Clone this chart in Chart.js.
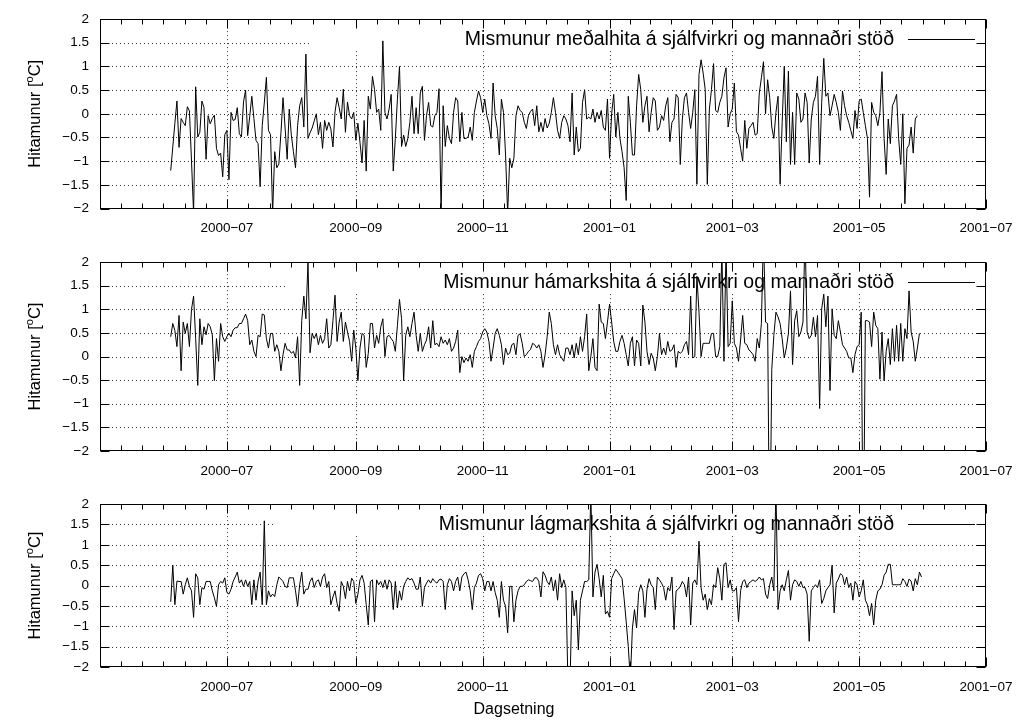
<!DOCTYPE html>
<html lang="is">
<head>
<meta charset="UTF-8">
<title>Mismunur sjálfvirkrar og mannaðrar stöðvar</title>
<script src="https://cdn.jsdelivr.net/npm/chart.js@4"></script>
<style>
  body {
    margin: 0;
    background: #fff;
  }
  .wrap {
    position: relative;
    width: 1028px;
    height: 727px;
  }
  .wrap canvas {
    position: absolute;
    left: 0;
  }
</style>
</head>
<body>

<div class="wrap">
  <canvas id="c1" width="1028" height="243" style="top:0"></canvas>
  <canvas id="c2" width="1028" height="242" style="top:243px"></canvas>
  <canvas id="c3" width="1028" height="242" style="top:485px"></canvas>
</div>

<script>
  // fyrsta mæling, síðan einn dagur á hvert gildi
  const fyrstiDagur = '2000-06-04';

  const medalhiti = [
    -1.2, -0.7, -0.2, 0.27, -0.71, -0.1, -0.18, -0.25, 0.15, 0.06,
    -1.0, -2.1, 0.57, -0.49, -0.39, 0.27, 0.13, -0.96, -0.04, -0.21,
    -0.1, -0.03, -0.73, -0.88, -0.83, -1.33, -0.44, -0.35, -1.39, 0.03,
    -0.14, -0.12, 0.13, -0.42, -0.49, 0.25, 0.5, -0.46, -0.05, 0.37,
    -0.1, -0.56, -0.63, -1.54, -0.25, 0.23, 0.77, -0.35, -0.44, -2.1,
    -0.8, -1.14, -1.06, -0.4, 0.34, -0.3, -0.96, 0.1, -0.45, -0.8,
    -1.14, -0.25, 0.17, 0.34, -0.28, 1.26, -0.52, -0.4, -0.3, -0.15,
    0, -0.44, -0.18, -0.73, -0.14, -0.35, -0.18, -0.32, -0.7, 0.04,
    0.34, 0.13, -0.11, 0.52, -0.39, 0.25, -0.04, -0.11, 0.03, -0.56,
    -0.2, -0.6, -1.04, -0.14, -1.21, 0.37, 0.10, 0.79, 0.51, 0.03,
    0.10, -0.35, 1.54, 0.03, -0.11, 0.10, 0.41, -1.21, -0.52, 0.31,
    1.0, -0.69, -0.45, -0.69, -0.52, -0.18, 0.37, -0.42, 0.13, -0.42,
    0.44, 0.58, -0.56, -0.04, 0.24, -0.25, -0.28, -0.04, 0.03, 0.53,
    -2.1, 0.17, -0.69, -0.25, -0.52, -0.63, 0.03, 0.34, 0.27, -0.59,
    0.03, -0.52, -0.52, -0.49, -0.28, -0.56, 0.03, 0.27, 0.48, 0.34,
    0.03, 0.31, -0.04, -0.21, -0.52, 0.65, -0.04, -0.31, -0.87, 0.31,
    0.03, -0.87, -2.1, -0.94, -1.14, -0.94, -0.04, 0.17, 0.07, 0.03,
    -0.18, -0.31, -0.04, 0.05, 0.1, -0.25, 0.17, -0.38, -0.18, -0.38, -0.1,
    -0.3, -0.2, 0.03, 0.34, 0.03, -0.35, -0.52, -0.18, -0.04, -0.11,
    -0.25, -0.59, 0.44, -0.87, -0.28, -0.8, -0.73, 0.24, 0.51, -0.11,
    -0.07, -0.11, 0.1, -0.18, 0.03, -0.11, 0.07, -0.28, -0.35, 0.31,
    -0.94, 0.0, 0.41, -0.49, 0.03, -0.52, -0.8, -1.14, -1.83, 0.37,
    -0.18, -0.87, -0.87, 0.17, 0.83, 0.51, -0.18, 0.17, 0.37, -0.38,
    0.03, 0.34, 0.27, -0.35, -0.28, -0.04, -0.14, 0.17, 0.34, -0.59,
    -0.18, -0.11, 0.41, 0.34, -1.07, -0.11, 0.34, 0.44, 0.03, -0.31,
    0.03, 0.51, -1.49, 0.83, 1.14, 0.86, 0.51, -1.49, 0.1, 0.51,
    1.06, 0.07, 0.03, 0.24, 0.37, 0.76, 0.97, -0.28, 0.0, 0.1,
    0.65, -0.38, -0.45, -0.73, -1.0, -0.14, -0.73, -0.31, -0.25, -0.18, -0.45,
    -0.42, 0.44, 0.76, 1.1, 0.0, 0.72, 0.34, -0.28, -0.52, 0.03,
    0.37, -1.49, -0.18, 1.0, -0.59, 0.90, -1.07, 0.03, -1.07, 0.44,
    0.31, -0.18, -0.11, 0.44, 0.24, -1.04, -0.11, 0.24, 0.37, 0.79,
    -1.07, 0.24, 1.17, 0.37, 0.44, -0.04, 0.17, 0.41, 0.24, 0.03,
    -0.35, 0.48, 0.17, -0.04, -0.18, -0.35, -0.52, 0.07, -0.31, 0.27,
    0.31, 0.03, -0.25, -0.52, -1.76, 0.24, 0.03, -0.04, -0.25, 0.03,
    0.89, -0.52, -1.28, -0.11, -0.63, 0.17, 0.27, 0.41, -0.52, -1.07,
    0.0, -1.9, -0.73, -0.66, -0.28, -0.83, -0.11, -0.04
  ];

  const hamarkshiti = [
    0.42, 0.70, 0.55, 0.21, 0.87, -0.30, 0.73, 0.49, 0.70, 0.21,
    1.0, 1.28, 0.38, -0.61, 0.80, 0.25, 0.63, 0.46, 0.70, 0.63,
    0.46, -0.51, 0.38, -0.10, 0.70, 0.42, 0.32, 0.42, 0.49, 0.42,
    0.56, 0.61, 0.61, 0.70, 0.70, 0.80, 0.90, 0.76, 0.25, 0.35,
    0.11, 0.0, 0.45, 0.42, 0.90, 0.88, 0.38, 0.18, 0.49, 0.49,
    0.11, 0.25, 0.11, -0.30, 0.04, 0.28, 0.14, 0.14, 0.07, 0.11,
    -0.03, 0.42, -0.61, 0.76, 1.28, 0.80, 2.0, 0.08, 0.49, 0.38,
    0.49, 0.25, 0.45, 0.28, 0.38, 0.80, 0.18, 0.25, 0.76, 1.3,
    0.32, 0.73, 0.94, 0.32, 0.73, 0.52, 0.32, -0.10, 0.56, 0.18,
    -0.51, 0.18, 0.49, 0.45, -0.23, 0.07, 0.70, 0.70, 0.18, 0.45,
    0.28, 0.63, 0.80, 0.0, 0.42, 0.45, 0.38, 0.32, 0.11, 0.66,
    1.21, 0.80, -0.51, 0.45, 0.63, 0.42, 0.70, 0.94, 0.45, 0.11,
    0.49, 0.11, 0.25, 0.35, 0.63, 0.18, 0.76, 0.25, 0.28, 0.21,
    0.42, 0.28, 0.35, 0.25, 0.38, 0.11, 0.18, 0.32, 0.56, -0.34,
    0.0, -0.13, -0.03, -0.10, 0.04, -0.23, 0.11, 0.21, 0.32, 0.38,
    0.52, 0.59, 0.52, 0.32, -0.10, 0.18, 0.49, 0.59, 0.45, 0.25,
    -0.17, 0.18, 0.04, 0.07, 0.25, 0.28, 0.04, 0.45, 0.48, 0.28,
    0.0, 0.04, 0.11, 0.15, 0.28, 0.25, 0.18, 0.25, 0.11, -0.23, 0.04,
    0.42, 0.94, 0.70, 0.25, 0.04, 0.25, 0.04, -0.03, -0.10, 0.18,
    0.18, 0.04, 0.25, -0.03, 0.28, 0.04, 0.42, 0.11, 0.42, 0.90,
    -0.30, 0.0, 0.38, -0.23, -0.30, 1.11, 0.73, 0.70, 0.38, 0.73,
    1.11, 0.73, 0.32, 0.11, 0.11, 0.32, 0.45, 0.28, 0.04, -0.20,
    0.28, 0.42, -0.20, 0.35, 0.28, -0.20, 1.09, 0.73, 0.11, -0.17,
    0.07, -0.03, -0.30, 0.0, 0.49, 0.04, 0.18, 0.04, 0.32, 0.11,
    0.14, 0.25, -0.23, 0.11, 0.07, 0.11, 0.25, 0.32, 0.04, 1.28,
    -0.03, 0.0, 1.70, 0.94, 0.0, 0.28, 0.28, 0.28, 0.28, 0.49,
    0.49, 0.0, 0.0, 0.21, 2.3, -0.10, 2.3, 0.21, 0.28, 1.18,
    0.28, 0.18, -0.1, 0.35, 0.87, 0.28, 0.25, 0.14, 0.10, 0.04, -0.10,
    0.38, 0.18, 0.70, 2.6, 0.73, 0.70, -4.5, -0.27, 0.45, 0.94,
    0.84, 0.70, 0.38, -0.03, 0.18, 0.49, 1.39, -0.17, 0.76, 0.97,
    0.42, 0.52, 0.73, 2.6, 0.52, 0.38, 0.45, 0.83, 0.42, 0.87,
    -1.1, 1.01, 1.32, 0.63, 1.28, -0.72, 1.01, 0.45, 0.38, 0.76,
    0.52, 0.25, 0.18, 0.11, -0.03, -0.03, -0.34, 0.04, 0.21, 0.25,
    0.94, -4.5, 0.76, 0.76, 0.73, 0.21, 0.94, 0.66, 0.59, -0.48,
    0.52, -0.51, 0.11, 0.38, -0.17, 0.59, -0.10, 0.66, -0.10, 0.70,
    -0.10, 0.59, 0.38, 1.39, 0.52, 0.32, -0.10, 0.18, 0.49
  ];

  const lagmarkshiti = [
    -0.40, 0.5, -0.47, 0.11, 0.10, 0.10, -0.21, 0.02, 0.19, -0.02,
    -0.13, -0.78, 0.29, 0.19, -0.47, -0.05, -0.09, 0.10, 0.10, 0.10,
    -0.13, -0.3, -0.51, 0.02, 0.10, 0.06, 0.19, -0.17, -0.21, -0.09,
    0.10, 0.21, 0.33, 0.06, 0.14, -0.02, 0.14, -0.02, 0.10, -0.47,
    0.14, -0.36, 0.10, 0.33, -0.47, 1.59, -0.47, -0.13, -0.28, -0.21,
    -0.27, 0.02, 0.21, 0.16, 0.10, -0.02, -0.05, 0.19, 0.19, 0.19,
    -0.13, -0.51, 0.02, 0.33, -0.21, -0.09, -0.09, 0.10, 0.19, -0.05,
    0.10, 0.14, -0.02, 0.21, 0.29, -0.05, 0.10, -0.47, -0.28, -0.13,
    -0.44, -0.63, 0.10, -0.02, -0.32, 0.10, -0.13, 0.18, 0.10, -0.44,
    -0.21, 0.14, 0.25, 0.06, -0.47, -0.97, 0.10, 0.14, -0.89, 0.14,
    0.02, 0.10, -0.05, 0.14, -0.09, 0.14, 0.06, -0.59, 0.10, -0.55,
    -0.13, -0.36, -0.02, 0.10, 0.19, 0.14, 0.17, 0.06, -0.09, -0.09,
    0.21, -0.51, -0.05, 0.06, 0.14, 0.06, 0.17, 0.10, 0.06, 0.14,
    0.16, 0.10, -0.59, 0.02, 0.17, 0.10, -0.13, 0.10, 0.21, -0.13,
    0.21, 0.29, 0.33, 0.14, -0.13, -0.59, -0.05, 0.06, 0.25, 0.29,
    0.17, -0.13, 0.10, 0.10, -0.13, 0.10, -0.17, -0.36, -0.78, 0.10,
    -0.36, -0.51, -1.16, -0.02, -0.02, -0.89, -0.36, -0.13, -0.02, -0.02,
    0.02, 0.10, 0.14, 0.12, 0.10, 0.19, 0.19, 0.10, -0.28, 0.34, 0.25,
    0.10, 0.02, 0.21, -0.13, 0.14, -0.36, 0.29, -0.05, 0.14, -0.05,
    -2.4, -2.4, -0.13, -0.74, -0.36, -1.58, -0.36, -0.13, 0.10, 0.10,
    0.14, 2.3, -0.28, 0.33, 0.52, 0.17, -0.28, 0.25, -0.70, -0.63,
    -0.78, 0.17, 0.29, 0.40, 0.33, 0.25, 0.17, -0.32, -0.89, -1.5,
    -2.3, -1.04, -0.59, -1.04, -0.17, 0.02, -0.13, -0.78, -0.09, 0.17,
    0.02, -0.05, -0.59, 0.21, 0.14, 0.06, -0.05, -0.36, -0.05, -0.13,
    0.21, -1.08, -0.13, -0.09, -0.02, 0.10, 0.02, -0.28, 0.21, -0.97,
    0.06, 0.14, 0.02, 1.09, -0.05, -0.36, -0.21, -0.59, -0.32, -0.47,
    0.02, -0.05, 0.44, 0.17, -0.36, 0.52, 0.56, -0.05, 0.14, -0.13,
    -0.13, -0.05, -0.89, -0.13, 0.10, 0.14, -0.05, 0.06, 0.10, 0.14, 0.10,
    0.14, 0.21, 0.14, 0.17, -0.21, -0.32, 0.02, 0.21, -0.13, 2.4,
    -0.59, -0.13, 0.02, -0.13, 0.14, 0.37, -0.36, 0.02, 0.14, 0.10,
    -0.02, 0.10, -0.05, -0.05, -0.21, -1.37, -0.13, -0.05, 0.02, -0.05,
    0.14, -0.44, -0.32, -0.13, -0.05, 0.02, 0.5, -0.67, 0.06, 0.16,
    0.29, 0.25, 0.02, 0.21, -0.05, 0.06, -0.36, 0.10, 0.02, -0.28,
    -0.13, 0.14, -0.36, -0.47, -0.74, -0.44, -0.97, -0.36, -0.13, -0.09,
    0.02, 0.25, 0.33, 0.52, 0.52, 0.02, 0.02, 0.02, 0.02, 0.02,
    0.17, 0.10, -0.02, 0.16, 0.11, -0.13, 0.17, 0.02, 0.33, 0.21
  ];

  const heiti = [
    'Mismunur meðalhita á sjálfvirkri og mannaðri stöð',
    'Mismunur hámarkshita á sjálfvirkri og mannaðri stöð',
    'Mismunur lágmarkshita á sjálfvirkri og mannaðri stöð'
  ];

  const xTickDates = ['2000-05-01', '2000-07-01', '2000-09-01', '2000-11-01',
                      '2001-01-01', '2001-03-01', '2001-05-01', '2001-07-01'];
  const xTickLabels = ['', '2000−07', '2000−09', '2000−11',
                       '2001−01', '2001−03', '2001−05', '2001−07'];
  const yTicks = [-2, -1.5, -1, -0.5, 0, 0.5, 1, 1.5, 2];
  const yTickLabels = ['−2', '−1.5', '−1', '−0.5', '0', '0.5', '1', '1.5', '2'];
  const yTitle = ['Hitamunur [', 'o', 'C]'];
  const xTitle = 'Dagsetning';

  // dagar frá 1. maí 2000
  const upphaf = Date.UTC(2000, 4, 1);
  const dagur = s => (Date.parse(s) - upphaf) / 864e5;
  const xTickDays = xTickDates.map(dagur);
  const xMin = xTickDays[0];
  const xMax = xTickDays[xTickDays.length - 1];

  const xMinor = [];
  for (let i = 0; i < xTickDays.length - 1; i++) {
    const a = xTickDays[i], b = xTickDays[i + 1];
    for (let k = 1; k < 6; k++) xMinor.push(a + (b - a) * k / 6);
  }

  const font = '"Liberation Sans", Arial, sans-serif';

  const panels = [
    { id: 'c1', data: medalhiti, name: heiti[0], padTop: 14, axisH: 34.5, keyLeft: 312, showX: false },
    { id: 'c2', data: hamarkshiti, name: heiti[1], padTop: 14, axisH: 34, keyLeft: 287, showX: false },
    { id: 'c3', data: lagmarkshiti, name: heiti[2], padTop: 8.5, axisH: 60, keyLeft: 273, showX: true }
  ];

  function gnuplotLook(p) {
    return {
      id: 'gnuplotLook',
      beforeDatasetsDraw(chart) {
        const { ctx, chartArea: a, scales: { x, y } } = chart;
        ctx.save();
        // punktalínur
        ctx.strokeStyle = '#333';
        ctx.lineWidth = 1;
        ctx.setLineDash([1, 3]);
        ctx.beginPath();
        yTicks.forEach(v => {
          if (v <= -2 || v >= 2) return;
          const py = Math.round(y.getPixelForValue(v)) + 0.5;
          ctx.moveTo(a.left, py);
          ctx.lineTo(a.right, py);
        });
        xTickDays.forEach(d => {
          if (d <= xMin || d >= xMax) return;
          const px = Math.round(x.getPixelForValue(d)) + 0.5;
          ctx.moveTo(px, a.top);
          ctx.lineTo(px, a.bottom);
        });
        ctx.stroke();
        ctx.setLineDash([]);

        // skýringarreitur
        ctx.fillStyle = '#fff';
        ctx.fillRect(p.keyLeft, a.top + 1, a.right - p.keyLeft - 1, 30);
        ctx.fillStyle = '#000';
        ctx.font = '19.5px ' + font;
        ctx.textAlign = 'right';
        ctx.textBaseline = 'alphabetic';
        ctx.fillText(p.name, 894, a.top + 25.5);
        ctx.beginPath();
        ctx.strokeStyle = '#000';
        const ly = Math.round(a.top + 19.5) + 0.5;
        ctx.moveTo(908, ly);
        ctx.lineTo(975, ly);
        ctx.stroke();
        ctx.restore();
      },
      afterDraw(chart) {
        const { ctx, chartArea: a, scales: { x, y } } = chart;
        const L = Math.round(a.left) + 0.5, R = Math.round(a.right) - 0.5;
        const T = Math.round(a.top) + 0.5, B = Math.round(a.bottom) - 0.5;
        ctx.save();
        ctx.strokeStyle = '#000';
        ctx.lineWidth = 1;
        ctx.beginPath();
        const xTick = (d, len) => {
          if (d < xMin || d > xMax) return;
          const px = Math.round(x.getPixelForValue(d)) + 0.5;
          ctx.moveTo(px, B); ctx.lineTo(px, B - len);
          ctx.moveTo(px, T); ctx.lineTo(px, T + len);
        };
        xTickDays.forEach(d => xTick(d, 9));
        xMinor.forEach(d => xTick(d, 5));
        yTicks.forEach(v => {
          const py = Math.round(y.getPixelForValue(v)) + 0.5;
          ctx.moveTo(L, py); ctx.lineTo(L + 9, py);
          ctx.moveTo(R, py); ctx.lineTo(R - 9, py);
        });
        ctx.stroke();
        ctx.strokeRect(L, T, R - L, B - T);

        // ás-heiti
        ctx.fillStyle = '#000';
        ctx.translate(35, (a.top + a.bottom) / 2);
        ctx.rotate(-Math.PI / 2);
        ctx.textBaseline = 'middle';
        ctx.textAlign = 'left';
        const big = '16.5px ' + font, small = '11px ' + font;
        ctx.font = big;
        const w1 = ctx.measureText(yTitle[0]).width;
        const w3 = ctx.measureText(yTitle[2]).width;
        ctx.font = small;
        const w2 = ctx.measureText(yTitle[1]).width;
        let sx = -(w1 + w2 + w3) / 2;
        ctx.font = big;
        ctx.fillText(yTitle[0], sx, 0);
        ctx.font = small;
        ctx.fillText(yTitle[1], sx + w1, -5);
        ctx.font = big;
        ctx.fillText(yTitle[2], sx + w1 + w2, 0);
        ctx.setTransform(1, 0, 0, 1, 0, 0);

        if (p.showX) {
          ctx.font = '16px ' + font;
          ctx.textAlign = 'center';
          ctx.fillText(xTitle, chart.width / 2, a.bottom + 43);
        }
        ctx.restore();
      }
    };
  }

  const d0 = dagur(fyrstiDagur);

  panels.forEach(p => {
    new Chart(document.getElementById(p.id), {
      type: 'line',
      data: {
        datasets: [{
          label: p.name,
          data: p.data.map((v, i) => ({ x: d0 + i, y: v })),
          borderColor: '#000',
          borderWidth: 1,
          pointRadius: 0,
          tension: 0,
          fill: false
        }]
      },
      options: {
        responsive: false,
        animation: false,
        events: [],
        layout: { padding: { top: p.padTop, right: 42, bottom: 0, left: 0 } },
        plugins: {
          legend: { display: false },
          tooltip: { enabled: false }
        },
        scales: {
          x: {
            type: 'linear',
            min: xMin,
            max: xMax,
            afterBuildTicks: s => { s.ticks = xTickDays.map(v => ({ value: v })); },
            afterFit: s => { s.height = p.axisH; },
            grid: { display: false, drawTicks: false },
            border: { display: false },
            ticks: {
              autoSkip: false,
              maxRotation: 0,
              padding: 11.7,
              color: '#000',
              font: { family: font, size: 13.5 },
              callback: v => xTickLabels[xTickDays.indexOf(v)]
            }
          },
          y: {
            min: -2,
            max: 2,
            afterBuildTicks: s => { s.ticks = yTicks.map(v => ({ value: v })); },
            afterFit: s => { s.width = 100; },
            grid: { display: false, drawTicks: false },
            border: { display: false },
            ticks: {
              padding: 11,
              color: '#000',
              font: { family: font, size: 13.5 },
              callback: v => yTickLabels[yTicks.indexOf(v)]
            }
          }
        }
      },
      plugins: [gnuplotLook(p)]
    });
  });
</script>

</body>
</html>
